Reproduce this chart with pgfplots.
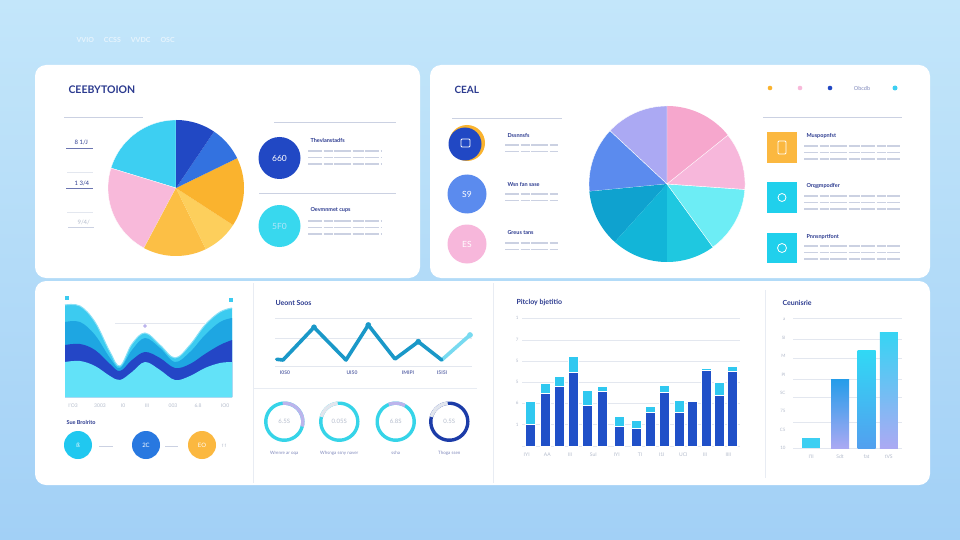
\documentclass[border=0pt]{standalone}
\usepackage{fontspec}
\setmainfont{Lato}
\usepackage{pgfplots}
\pgfplotsset{compat=1.18}
\definecolor{bgtop}{HTML}{C3E6FA}
\definecolor{bgbot}{HTML}{A2D0F6}
\definecolor{navy}{HTML}{2B3A8F}
\definecolor{tgray}{HTML}{CBD1E2}
\definecolor{lgray}{HTML}{B4BCCC}
\definecolor{gridc}{HTML}{E3E7EF}
\definecolor{divc}{HTML}{E8ECF3}
% pie 1
\definecolor{pacyan}{HTML}{3DCFF2}
\definecolor{papink}{HTML}{F8B9DA}
\definecolor{paorA}{HTML}{FCBF45}
\definecolor{payel}{HTML}{FDCF5C}
\definecolor{paorB}{HTML}{FAB32E}
\definecolor{pamblue}{HTML}{3372E0}
\definecolor{padblue}{HTML}{2148C4}
% pie 2
\definecolor{pbpink}{HTML}{F6A7CD}
\definecolor{pblav}{HTML}{ABA9F3}
\definecolor{pbblue}{HTML}{5B8BEE}
\definecolor{pbdteal}{HTML}{0FA2CF}
\definecolor{pbteal}{HTML}{12B5D8}
\definecolor{pbcyan}{HTML}{1FC8E0}
\definecolor{pblcyan}{HTML}{6DEDF5}
\definecolor{pblpink}{HTML}{F7B7DB}
% area
\definecolor{arA}{HTML}{3CCBF0}
\definecolor{arB}{HTML}{1EA6E2}
\definecolor{arC}{HTML}{2446C6}
\definecolor{arD}{HTML}{62E2F8}
\definecolor{linec}{HTML}{1A98C8}
\definecolor{linel}{HTML}{78DAF0}
\definecolor{bardark}{HTML}{2050C8}
\definecolor{barcyan}{HTML}{30C8F0}
\definecolor{ringcyan}{HTML}{36D4E8}
\definecolor{ringlav}{HTML}{BCB4EC}
\definecolor{ringgray}{HTML}{E2E6EE}
\definecolor{ringdark}{HTML}{1C3CA8}
\definecolor{sqor}{HTML}{FBB840}
\definecolor{sqcy}{HTML}{20D0EC}
\definecolor{cyc}{HTML}{38D8EE}
\definecolor{cyb}{HTML}{20C8F0}
\definecolor{blb}{HTML}{2878E0}
\newcommand{\fs}[1]{\fontsize{#1}{#1}\selectfont}
\newcommand{\tlines}[4]{%
  \foreach \k in {1,...,#4}{\draw[tgray, line width=1.1pt, dash pattern=on 14pt off 1.5pt on 9pt off 1.5pt on 17pt off 1.5pt on 11pt off 1.5pt] (#1,{#2+(\k-1)*6.5}) -- ++(#3,0);}}
\begin{document}
\begin{tikzpicture}[x=1pt,y=-1pt]
\path[use as bounding box] (0,0) rectangle (960,540);
\shade[top color=bgtop,bottom color=bgbot] (0,0) rectangle (960,540);
% faint header
\node[anchor=west, font=\fs{7}\bfseries, text=white, opacity=0.6] at (73,40) {VVIO\hspace{10pt}CCSS\hspace{10pt}VVDC\hspace{10pt}OSC};
% panels
\fill[white, rounded corners=11pt] (35,65) rectangle (420,278);
\fill[white, rounded corners=11pt] (430,65) rectangle (930,278);
\fill[white, rounded corners=11pt] (35,281) rectangle (930,485);
% dividers bottom
\draw[divc, line width=0.7pt] (253,283) -- (253,483);
\draw[divc, line width=0.7pt] (493,283) -- (493,483);
\draw[divc, line width=0.7pt] (765,290) -- (765,478);
\draw[divc, line width=0.7pt] (253,388) -- (477,388);

% ---------- top-left panel texts
\node[anchor=west, font=\fs{10.5}\bfseries, text=navy] at (65,90) {CEEBYTOION};
\draw[tgray, line width=0.8pt] (64,117) -- (143,117);
\node[anchor=west, font=\fs{6}, text=navy] at (71,142) {8 1/J};
\draw[navy!70, line width=0.8pt] (66,148) -- (93,148);
\draw[gridc, line width=0.8pt] (67,172) -- (93,172);
\node[anchor=west, font=\fs{6}, text=navy] at (71,183) {1 3/4};
\draw[navy!70, line width=0.8pt] (66,188) -- (93,188);
\draw[gridc, line width=0.8pt] (67,212) -- (93,212);
\node[anchor=west, font=\fs{6}, text=lgray] at (74,222) {9/4/};
\draw[tgray, line width=0.8pt] (68,227) -- (94,227);
\draw[tgray, line width=0.8pt] (274,122) -- (396,122);
\draw[tgray, line width=0.8pt] (259,193) -- (396,193);
\fill[padblue] (279.5,158) circle (21);
\node[font=\fs{8.5}, text=white] at (279.5,158) {660};
\fill[cyc] (279.5,226) circle (21);
\node[font=\fs{8.5}, text=white!70!cyan] at (279.5,226) {5F0};
\node[anchor=west, font=\fs{5.5}\bfseries, text=navy] at (307,140) {Thevlanstadfs};
\tlines{308}{151}{74}{3}
\node[anchor=west, font=\fs{5.5}\bfseries, text=navy] at (307,210) {Oevmnmet cups};
\tlines{308}{221}{74}{3}

% ---------- top-right panel texts
\node[anchor=west, font=\fs{10}\bfseries, text=navy] at (451,90) {CEAL};
\draw[tgray, line width=0.8pt] (452,118) -- (562,118);
\fill[paorB] (770,88) circle (2.3);
\fill[papink] (800,88) circle (2.3);
\fill[padblue] (830,88) circle (2.3);
\node[font=\fs{5.5}, text=navy!60] at (862,88) {Obcdb};
\fill[pacyan] (895,88) circle (2.5);
\draw[tgray, line width=0.8pt] (763,117) -- (902,117);
% circles left
\fill[paorB] (467,143) circle (18);
\fill[padblue] (465,144) circle (16.5);
\draw[white, line width=0.8pt, rounded corners=1pt] (461,139) rectangle (470,147);
\fill[pbblue] (467,194) circle (19.5);
\node[font=\fs{8.5}, text=white] at (467,194) {S9};
\fill[pblpink] (467,244) circle (19.5);
\node[font=\fs{8.5}, text=white] at (467,244) {ES};
\node[anchor=west, font=\fs{5.5}\bfseries, text=navy] at (504,135) {Dssnnsfs};
\tlines{505}{145}{53}{2}
\node[anchor=west, font=\fs{5.5}\bfseries, text=navy] at (504,184) {Wsn fan sase};
\tlines{505}{194}{53}{2}
\node[anchor=west, font=\fs{5.5}\bfseries, text=navy] at (504,233) {Greus tans};
\tlines{505}{243}{53}{2}
% squares right
\fill[sqor] (767,132) rectangle (797,163);
\draw[white, line width=0.8pt, rounded corners=1pt] (778,141) rectangle (786,154);
\fill[sqcy] (767,182) rectangle (797,213);
\draw[white, line width=0.8pt] (782,197.5) circle (4);
\fill[sqcy] (767,233) rectangle (797,263);
\draw[white, line width=0.8pt] (782,248) circle (4.5);
\node[anchor=west, font=\fs{5.5}\bfseries, text=navy] at (803,136) {Muspopnfst};
\tlines{804}{146}{96}{3}
\node[anchor=west, font=\fs{5.5}\bfseries, text=navy] at (803,186) {Orqgmpodfer};
\tlines{804}{196}{96}{3}
\node[anchor=west, font=\fs{5.5}\bfseries, text=navy] at (803,237) {Pnnsnprtfont};
\tlines{804}{246}{96}{3}

% ---------- overlay axis: pies and rings (pixel coordinates)
\coordinate (O) at (0,0);
\begin{axis}[at={(O)}, anchor=north west, scale only axis, width=960pt, height=540pt,
  xmin=0, xmax=960, ymin=-540, ymax=0, hide axis, clip=false]
% pie 1 (centre 176,188 r 68)
\addplot[fill=pacyan, draw=white, line width=0.3pt, domain=90:163, samples=40] ({176+68*cos(x)},{-188+68*sin(x)}) -- (axis cs:176,-188) -- cycle;
\addplot[fill=papink, draw=white, line width=0.3pt, domain=163:242, samples=40] ({176+68*cos(x)},{-188+68*sin(x)}) -- (axis cs:176,-188) -- cycle;
\addplot[fill=paorA, draw=none, domain=242:296, samples=40] ({176+68*cos(x)},{-188+68*sin(x)}) -- (axis cs:176,-188) -- cycle;
\addplot[fill=payel, draw=none, domain=296:327, samples=30] ({176+68*cos(x)},{-188+68*sin(x)}) -- (axis cs:176,-188) -- cycle;
\addplot[fill=paorB, draw=none, domain=327:386, samples=40] ({176+68*cos(x)},{-188+68*sin(x)}) -- (axis cs:176,-188) -- cycle;
\addplot[fill=pamblue, draw=none, domain=26:56, samples=30] ({176+68*cos(x)},{-188+68*sin(x)}) -- (axis cs:176,-188) -- cycle;
\addplot[fill=padblue, draw=none, domain=56:90, samples=30] ({176+68*cos(x)},{-188+68*sin(x)}) -- (axis cs:176,-188) -- cycle;
% pie 2 (centre 667,184 r 78)
\addplot[fill=pbpink, draw=none, domain=38.7:90, samples=40] ({667+78*cos(x)},{-184+78*sin(x)}) -- (axis cs:667,-184) -- cycle;
\addplot[fill=pblav, draw=white, line width=0.4pt, domain=90:137, samples=40] ({667+78*cos(x)},{-184+78*sin(x)}) -- (axis cs:667,-184) -- cycle;
\addplot[fill=pbblue, draw=white, line width=0.4pt, domain=137:185.5, samples=40] ({667+78*cos(x)},{-184+78*sin(x)}) -- (axis cs:667,-184) -- cycle;
\addplot[fill=pbdteal, draw=none, domain=185.5:228, samples=40] ({667+78*cos(x)},{-184+78*sin(x)}) -- (axis cs:667,-184) -- cycle;
\addplot[fill=pbteal, draw=none, domain=228:270, samples=40] ({667+78*cos(x)},{-184+78*sin(x)}) -- (axis cs:667,-184) -- cycle;
\addplot[fill=pbcyan, draw=none, domain=270:306, samples=40] ({667+78*cos(x)},{-184+78*sin(x)}) -- (axis cs:667,-184) -- cycle;
\addplot[fill=pblcyan, draw=white, line width=0.4pt, domain=306:356, samples=40] ({667+78*cos(x)},{-184+78*sin(x)}) -- (axis cs:667,-184) -- cycle;
\addplot[fill=pblpink, draw=white, line width=0.4pt, domain=356:398.7, samples=40] ({667+78*cos(x)},{-184+78*sin(x)}) -- (axis cs:667,-184) -- cycle;
% rings
\addplot[draw=ringcyan, line width=3.4pt, domain=0:360, samples=70] ({284.3+18.5*cos(x)},{-421.7+18.5*sin(x)});
\addplot[draw=ringlav, line width=3.4pt, domain=-15:95, samples=40] ({284.3+18.5*cos(x)},{-421.7+18.5*sin(x)});
\addplot[draw=ringcyan, line width=3.4pt, domain=0:360, samples=70] ({339.3+18.5*cos(x)},{-421.7+18.5*sin(x)});
\addplot[draw=ringgray, line width=3.4pt, domain=95:165, samples=30] ({339.3+18.5*cos(x)},{-421.7+18.5*sin(x)});
\addplot[draw=ringcyan, line width=3.4pt, domain=0:360, samples=70] ({395.7+18.5*cos(x)},{-421.7+18.5*sin(x)});
\addplot[draw=ringlav, line width=3.4pt, domain=60:112, samples=30] ({395.7+18.5*cos(x)},{-421.7+18.5*sin(x)});
\addplot[draw=ringdark, line width=3.4pt, domain=0:360, samples=70] ({449.3+18.5*cos(x)},{-421.7+18.5*sin(x)});
\addplot[draw=ringgray, line width=3.4pt, domain=95:165, samples=30] ({449.3+18.5*cos(x)},{-421.7+18.5*sin(x)});
\end{axis}
\node[font=\fs{6}, text=lgray] at (284.3,421.7) {6.5S};
\node[font=\fs{6}, text=lgray] at (339.3,421.7) {0.05S};
\node[font=\fs{6}, text=lgray] at (395.7,421.7) {6.8S};
\node[font=\fs{6}, text=lgray] at (449.3,421.7) {0.5S};
\node[font=\fs{4.5}, text=navy!60] at (284.3,453) {Wrenre ar oqa};
\node[font=\fs{4.5}, text=navy!60] at (339.3,453) {Whsnga ssny naver};
\node[font=\fs{4.5}, text=navy!60] at (395.7,453) {ssha};
\node[font=\fs{4.5}, text=navy!60] at (449.3,453) {Thoga ssen};

% ---------- area chart
\coordinate (A1) at (65,397);
\begin{axis}[at={(A1)}, anchor=south west, scale only axis, width=167pt, height=100pt,
  xmin=65, xmax=232, ymin=0, ymax=100, axis line style={draw=none}, ytick=\empty,
  xtick={73,100,123,147,173,198,225}, xticklabels={I'O3,3003,I0,III,003,6.8,IO0},
  major tick length=0pt, xticklabel style={font=\fs{5}, text=lgray, yshift=-3pt}, clip=false]
\draw[gridc, line width=0.6pt] (axis cs:115,74) -- (axis cs:205,74);
\addplot[fill=arA, draw=none, smooth, tension=0.6] coordinates {(65,92)(80,91)(95,75)(110,45)(120,31)(132,53)(145,64)(160,52)(175,39)(190,52)(205,72)(220,85)(232,89)} \closedcycle;
\addplot[fill=arB, draw=none, smooth, tension=0.6] coordinates {(65,75)(80,75)(95,62)(110,39)(120,29)(132,47)(145,59)(160,49)(175,35)(190,45)(205,62)(220,75)(232,79)} \closedcycle;
\addplot[fill=arC, draw=none, smooth, tension=0.6] coordinates {(65,52)(80,53)(95,47)(110,33)(120,26)(132,37)(145,45)(160,39)(175,29)(190,33)(205,43)(220,52)(232,57)} \closedcycle;
\addplot[fill=arD, draw=none, smooth, tension=0.6] coordinates {(65,35)(80,36)(95,31)(110,21)(120,17)(132,25)(145,35)(160,27)(175,17)(190,21)(205,29)(220,34)(232,35)} \closedcycle;
\addplot[draw=arA!60!white, line width=1pt, smooth, tension=0.6] coordinates {(65,92)(80,91)(95,75)(110,45)(120,31)(132,53)(145,64)(160,52)(175,39)(190,52)(205,72)(220,85)(232,89)};
\addplot[only marks, mark=*, mark size=1.6pt, color=ringlav] coordinates {(145,71)};
\addplot[only marks, mark=square*, mark size=1.4pt, color=arA] coordinates {(67,99)(231,97)};
\end{axis}
\node[anchor=west, font=\fs{5.5}\bfseries, text=navy] at (63,422) {Sue Brolrito};
\draw[tgray, line width=0.8pt] (99,446) -- (113,446);
\draw[tgray, line width=0.8pt] (165,446) -- (178,446);
\fill[cyb] (78,445) circle (14);
\node[font=\fs{6}, text=white] at (78,445) {ß};
\fill[blb] (146,445) circle (14);
\node[font=\fs{6}, text=white] at (146,445) {2C};
\fill[sqor] (202,445) circle (14);
\node[font=\fs{6}, text=white] at (202,445) {EO};
\node[font=\fs{4.5}, text=lgray] at (224,446) {f f};

% ---------- line chart
\node[anchor=west, font=\fs{7}\bfseries, text=navy] at (272,303) {Ueont Soos};
\coordinate (L1) at (275,366.7);
\begin{axis}[at={(L1)}, anchor=south west, scale only axis, width=197pt, height=48.4pt,
  xmin=275, xmax=472, ymin=0, ymax=48.4, axis line style={draw=none},
  ytick={0,28.4,48.4}, yticklabels={}, ymajorgrids, grid style={gridc, line width=0.6pt},
  xtick={285,352,408,442}, xticklabels={I0S0,UI50,IMIPI,I5I5I},
  major tick length=0pt, xticklabel style={font=\fs{5}\bfseries, text=navy!75, yshift=-1pt}, clip=false]
\addplot[draw=linel, line width=3.6pt, line cap=round] coordinates {(441.7,6.7)(470,31.7)};
\addplot[draw=linec, line width=3.6pt, line join=round, line cap=round] coordinates {(276.7,7.4)(283,6.7)(314,39.4)(346,6.7)(368.3,41.7)(395,7.7)(418.3,25)(441.7,6.7)};
\addplot[only marks, mark=*, mark size=2.6pt, color=linec] coordinates {(314,39.4)(368.3,41.7)(418.3,25)};
\addplot[only marks, mark=*, mark size=2.6pt, color=linel] coordinates {(470,31.7)};
\end{axis}

% ---------- bar chart 1
\node[anchor=west, font=\fs{7}\bfseries, text=navy] at (513,303) {Pitcloy bjetitio};
\coordinate (B1) at (522,446.7);
\begin{axis}[at={(B1)}, anchor=south west, scale only axis, width=218pt, height=128.7pt,
  xmin=522, xmax=740, ymin=0, ymax=128.7, ybar stacked, bar width=10,
  axis line style={draw=none}, ytick={22,43.7,64.7,85.7,106.7,128.7}, yticklabels={1,6,5,5,7,1},
  extra y ticks={0}, extra y tick labels={},
  ymajorgrids, grid style={gridc, line width=0.6pt},
  yticklabel style={font=\fs{4.5}, text=lgray}, major tick length=0pt,
  xtick={526.7,547.3,570,593.3,616.7,640,661.7,683.3,705,728.3},
  xticklabels={IYI,AA,III,SuI,IYI,TI,I1I,UCI,III,IIII},
  xticklabel style={font=\fs{5}, text=lgray, yshift=-3pt}, clip=false]
\addplot[fill=bardark, draw=white, line width=0.8pt] coordinates {(530,22.7)(545,53.4)(559.2,60.7)(573,74.4)(587,41)(602,55)(619.3,20)(636,18.4)(650.5,34.4)(664.7,54.4)(679.5,34.4)(692,45)(706,76)(719,51.7)(732,75)};
\addplot[fill=barcyan, draw=white, line width=0.8pt] coordinates {(530,22.3)(545,10.3)(559.2,10)(573,16.3)(587,15.7)(602,5.7)(619.3,10.7)(636,8.3)(650.5,5.6)(664.7,7.3)(679.5,11.6)(692,1)(706,2)(719,12.3)(732,5.7)};
\end{axis}

% ---------- bar chart 2
\node[anchor=west, font=\fs{7}\bfseries, text=navy] at (779,303) {Ceunisrie};
\coordinate (B2) at (793,448.3);
\begin{axis}[at={(B2)}, anchor=south west, scale only axis, width=109pt, height=130pt,
  xmin=793, xmax=902, ymin=0, ymax=130, axis line style={draw=none},
  ytick={0,18.4,36.9,55.3,73.7,92.1,110.6,129}, yticklabels={10,C5,75,SC,PI,M,SI,a},
  yticklabel style={font=\fs{4.5}, text=lgray, xshift=-4pt}, major tick length=0pt,
  extra y ticks={25.6,50.6,69.3,90,109,130}, extra y tick labels={},
  extra y tick style={grid=major, major grid style={gridc, line width=0.6pt}},
  xtick={811.2,840,866.5,888.8}, xticklabels={I'II,Sdt,fat,tVS},
  xticklabel style={font=\fs{5}, text=lgray, yshift=-3pt}, clip=false]
\draw[gridc, line width=0.6pt] (axis cs:793,0) -- (axis cs:902,0);
\addplot[ybar, bar shift=0pt, bar width=18, draw=none, fill=pacyan] coordinates {(811.2,10)};
\addplot[ybar, bar shift=0pt, bar width=18, draw=none, shade, top color=pamblue!70!cyan, bottom color=pblav] coordinates {(840,69.3)};
\addplot[ybar, bar shift=0pt, bar width=18, draw=none, shade, top color=pacyan!80!cyan, bottom color=pbblue!70!pacyan] coordinates {(866.5,98.3)};
\addplot[ybar, bar shift=0pt, bar width=18, draw=none, shade, top color=pacyan!90!cyan, bottom color=pblav] coordinates {(888.8,115.6)};
\end{axis}
\end{tikzpicture}
\end{document}
